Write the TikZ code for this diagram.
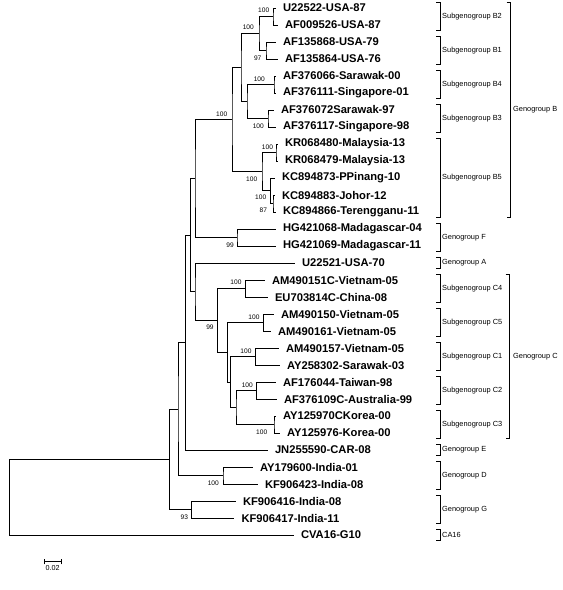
\documentclass[tikz,border=0pt]{standalone}
\usepackage{fontspec}
\setmainfont{Liberation Sans}
\usepackage{tikz}

\begin{document}
\begin{tikzpicture}[
  x=1pt, y=-1pt,
  leaf/.style={anchor=west, inner xsep=7.5pt, inner ysep=0pt, outer sep=0pt,
               font=\fontsize{11.2}{12}\selectfont\bfseries},
  boot/.style={inner sep=0pt, font=\fontsize{6.6}{7}\selectfont},
  grp/.style={anchor=west, inner sep=0pt, font=\fontsize{7.4}{8}\selectfont},
  branch/.style={line width=0.8pt},
  bracket/.style={line width=0.7pt},
]
\useasboundingbox (0,0) rectangle (563,590);

% leaves
\node[leaf] (l0) at (275.5,8) {U22522-USA-87};
\node[leaf] (l1) at (277.5,25) {AF009526-USA-87};
\node[leaf] (l2) at (275.5,42) {AF135868-USA-79};
\node[leaf] (l3) at (277.5,59) {AF135864-USA-76};
\node[leaf] (l4) at (275.5,76) {AF376066-Sarawak-00};
\node[leaf] (l5) at (275.5,93) {AF376111-Singapore-01};
\node[leaf] (l6) at (273.5,110) {AF376072Sarawak-97};
\node[leaf] (l7) at (275.5,127) {AF376117-Singapore-98};
\node[leaf] (l8) at (277.5,144) {KR068480-Malaysia-13};
\node[leaf] (l9) at (277.5,161) {KR068479-Malaysia-13};
\node[leaf] (l10) at (274.5,178) {KC894873-PPinang-10};
\node[leaf] (l11) at (274.5,195) {KC894883-Johor-12};
\node[leaf] (l12) at (275.5,212) {KC894866-Terengganu-11};
\node[leaf] (l13) at (275.5,229) {HG421068-Madagascar-04};
\node[leaf] (l14) at (275.5,246) {HG421069-Madagascar-11};
\node[leaf] (l15) at (294.5,263) {U22521-USA-70};
\node[leaf] (l16) at (264.5,280) {AM490151C-Vietnam-05};
\node[leaf] (l17) at (267.5,297) {EU703814C-China-08};
\node[leaf] (l18) at (273.5,314) {AM490150-Vietnam-05};
\node[leaf] (l19) at (270.5,331) {AM490161-Vietnam-05};
\node[leaf] (l20) at (278.5,348) {AM490157-Vietnam-05};
\node[leaf] (l21) at (279.5,365) {AY258302-Sarawak-03};
\node[leaf] (l22) at (275.5,382) {AF176044-Taiwan-98};
\node[leaf] (l23) at (276.5,399) {AF376109C-Australia-99};
\node[leaf] (l24) at (275.5,416) {AY125970CKorea-00};
\node[leaf] (l25) at (279.5,433) {AY125976-Korea-00};
\node[leaf] (l26) at (267.5,450) {JN255590-CAR-08};
\node[leaf] (l27) at (252.5,467) {AY179600-India-01};
\node[leaf] (l28) at (257.5,484) {KF906423-India-08};
\node[leaf] (l29) at (235.5,501) {KF906416-India-08};
\node[leaf] (l30) at (234,518) {KF906417-India-11};
\node[leaf] (l31) at (293.5,535) {CVA16-G10};

% internal nodes
\coordinate (nB2) at (273,16.5);
\coordinate (nB1) at (266,50.5);
\coordinate (nB21) at (259,33.5);
\coordinate (nB4) at (274,84.5);
\coordinate (nB3) at (268,118.5);
\coordinate (nB43) at (247,101.5);
\coordinate (nBa) at (241,67.5);
\coordinate (nKR) at (276,152.5);
\coordinate (nKCi) at (273,203.5);
\coordinate (nKC) at (270.7,190.75);
\coordinate (nB5) at (262,171.6);
\coordinate (nB) at (232,119.56);
\coordinate (nF) at (237,237.5);
\coordinate (nBF) at (195,178.53);
\coordinate (nC4) at (245.7,288.5);
\coordinate (nC5) at (263.3,322.5);
\coordinate (nC1) at (255.7,356.5);
\coordinate (nC2) at (256.7,390.5);
\coordinate (nC3) at (274,424.5);
\coordinate (nC23) at (236,407.5);
\coordinate (nC123) at (230.7,382);
\coordinate (nC5123) at (227.5,352.25);
\coordinate (nC) at (217.3,320.38);
\coordinate (nAC) at (195,291.69);
\coordinate (nX) at (190.7,235.11);
\coordinate (nY) at (185.7,342.56);
\coordinate (nD) at (223,475.5);
\coordinate (nZ) at (178,409.03);
\coordinate (nG) at (191.7,509.5);
\coordinate (nW) at (169.3,459.27);
\coordinate (root) at (9.3,497.1);

% branches
\draw[branch] (l0.west) -| (nB2) |- (l1.west);
\draw[branch] (l2.west) -| (nB1) |- (l3.west);
\draw[branch] (nB2) -| (nB21) |- (nB1);
\draw[branch] (l4.west) -| (nB4) |- (l5.west);
\draw[branch] (l6.west) -| (nB3) |- (l7.west);
\draw[branch] (nB4) -| (nB43) |- (nB3);
\draw[branch] (nB21) -| (nBa) |- (nB43);
\draw[branch] (l8.west) -| (nKR) |- (l9.west);
\draw[branch] (l11.west) -| (nKCi) |- (l12.west);
\draw[branch] (l10.west) -| (nKC) |- (nKCi);
\draw[branch] (nKR) -| (nB5) |- (nKC);
\draw[branch] (nBa) -| (nB) |- (nB5);
\draw[branch] (l13.west) -| (nF) |- (l14.west);
\draw[branch] (nB) -| (nBF) |- (nF);
\draw[branch] (l16.west) -| (nC4) |- (l17.west);
\draw[branch] (l18.west) -| (nC5) |- (l19.west);
\draw[branch] (l20.west) -| (nC1) |- (l21.west);
\draw[branch] (l22.west) -| (nC2) |- (l23.west);
\draw[branch] (l24.west) -| (nC3) |- (l25.west);
\draw[branch] (nC2) -| (nC23) |- (nC3);
\draw[branch] (nC1) -| (nC123) |- (nC23);
\draw[branch] (nC5) -| (nC5123) |- (nC123);
\draw[branch] (nC4) -| (nC) |- (nC5123);
\draw[branch] (l15.west) -| (nAC) |- (nC);
\draw[branch] (nBF) -| (nX) |- (nAC);
\draw[branch] (nX) -| (nY) |- (l26.west);
\draw[branch] (l27.west) -| (nD) |- (l28.west);
\draw[branch] (nY) -| (nZ) |- (nD);
\draw[branch] (l29.west) -| (nG) |- (l30.west);
\draw[branch] (nZ) -| (nW) |- (nG);
\draw[branch] (nW) -| (root) |- (l31.west);

% bootstrap values
\node[boot] (bs1) at (263.7,10) {100};
\node[boot] (bs2) at (257.7,58.3) {97};
\node[boot] (bs3) at (248.3,27.3) {100};
\node[boot] (bs4) at (259.3,79) {100};
\node[boot] (bs5) at (258.3,126) {100};
\node[boot] (bs6) at (221.7,114) {100};
\node[boot] (bs7) at (267.5,147) {100};
\node[boot] (bs8) at (251.7,179) {100};
\node[boot] (bs9) at (260.7,197.3) {100};
\node[boot] (bs10) at (263.3,210.7) {87};
\node[boot] (bs11) at (230,245) {99};
\node[boot] (bs12) at (210,327.7) {99};
\node[boot] (bs13) at (236,282.7) {100};
\node[boot] (bs14) at (254,317) {100};
\node[boot] (bs15) at (246,351.3) {100};
\node[boot] (bs16) at (247.3,385) {100};
\node[boot] (bs17) at (261.7,432.3) {100};
\node[boot] (bs18) at (213.3,483.7) {100};
\node[boot] (bs19) at (184.3,517.3) {93};

% group brackets
\foreach \ya/\yb/\txt [count=\k] in {
    2.5/30.5/Subgenogroup B2, 36.5/64.5/Subgenogroup B1,
    70.5/98.5/Subgenogroup B4, 104.5/132.5/Subgenogroup B3,
    138.5/217.5/Subgenogroup B5, 223.5/251.5/Genogroup F,
    257.5/268.5/Genogroup A, 274.5/302.5/Subgenogroup C4,
    308.5/336.5/Subgenogroup C5, 342.5/370.5/Subgenogroup C1,
    376.5/404.5/Subgenogroup C2, 410.5/438.5/Subgenogroup C3,
    444.5/455.5/Genogroup E, 461.5/489.5/Genogroup D,
    495.5/523.5/Genogroup G, 529.5/540.5/CA16} {
  \draw[bracket] (436,\ya) -- (440,\ya) -- (440,\yb) -- (436,\yb);
  \node[grp] (g\k) at (442,{(\ya+\yb)/2}) {\txt};
}
\draw[bracket] (506.5,2.5) -- (510,2.5) -- (510,217.5) -- (506.5,217.5);
\node[grp] (genoB) at (513,110) {Genogroup B};
\draw[bracket] (505.5,274.5) -- (509,274.5) -- (509,438.5) -- (505.5,438.5);
\node[grp] (genoC) at (513,356.5) {Genogroup C};

% scale bar
\coordinate (sbl) at (44.3,561.7);
\coordinate (sbr) at (61.7,561.7);
\draw[branch] (sbl) -- (sbr);
\draw[branch] ([yshift=-2.7pt]sbl) -- ([yshift=2.7pt]sbl);
\draw[branch] ([yshift=-2.7pt]sbr) -- ([yshift=2.7pt]sbr);
\node[boot, font=\fontsize{7.2}{8}\selectfont] (sblab) at (52.7,568.5) {0.02};

\end{tikzpicture}
\end{document}
